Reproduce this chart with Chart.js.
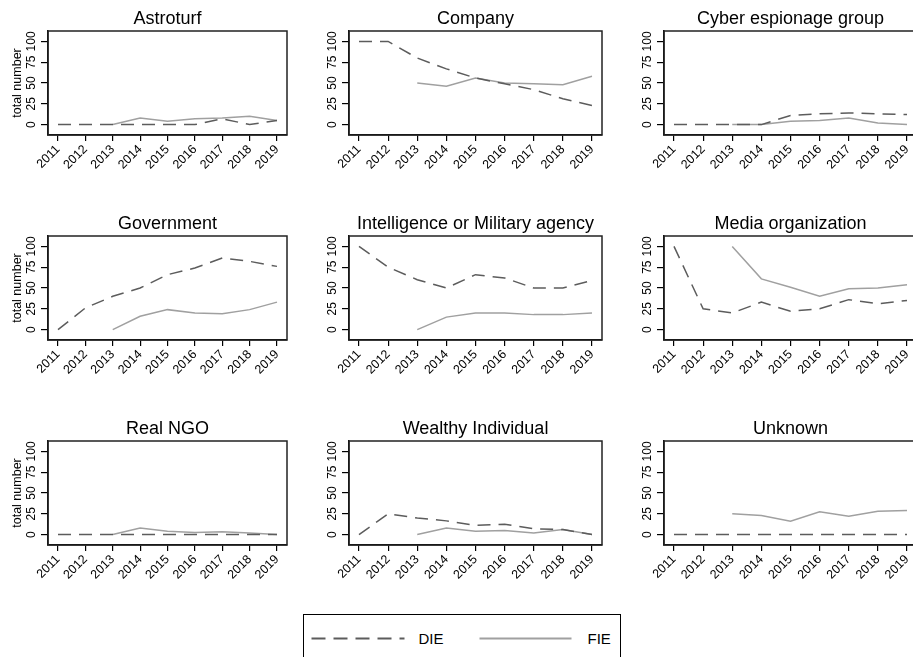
<!DOCTYPE html>
<html><head><meta charset="utf-8">
<script src="https://cdn.jsdelivr.net/npm/chart.js@4"></script>
<style>
html,body{margin:0;padding:0;background:#fff;width:913px;height:657px;overflow:hidden;position:relative;}
canvas{position:absolute;}
#legend{position:absolute;left:303px;top:614px;width:318px;height:60px;border:1.5px solid #000;box-sizing:border-box;font-family:"Liberation Sans",Arial,sans-serif;font-size:15px;color:#000;}
#legend span{position:absolute;line-height:18px;}
</style></head><body>
<div id="legend">
<svg width="316" height="58" style="position:absolute;left:0;top:0">
<line x1="7.5" y1="23.5" x2="100.5" y2="23.5" stroke="#5c5c5c" stroke-width="2" stroke-dasharray="14 8"/>
<line x1="175.5" y1="23.5" x2="267.5" y2="23.5" stroke="#a0a0a0" stroke-width="2"/>
</svg>
<span style="left:114.5px;top:14.5px">DIE</span>
<span style="left:283.5px;top:14.5px">FIE</span>
</div>
<script>
const years = [2011, 2012, 2013, 2014, 2015, 2016, 2017, 2018, 2019];
const yTicks = [0, 25, 50, 75, 100];
const titles = ["Astroturf", "Company", "Cyber espionage group", "Government", "Intelligence or Military agency", "Media organization", "Real NGO", "Wealthy Individual", "Unknown"];

const dieAstroturf = [0, 0, 0, 0, 0, 0, 7, 0, 5];
const fieAstroturf = [null, null, 0, 8, 4, 7, 8, 10, 5];
const dieCompany = [100, 100, 80, 67, 56, 49, 42, 31, 23];
const fieCompany = [null, null, 50, 46, 56, 50, 49, 48, 58];
const dieCyber = [0, 0, 0, 0, 11, 13, 14, 13, 12];
const fieCyber = [null, null, 0, 0, 4, 5, 8, 2, 0];
const dieGovernment = [0, 26, 40, 50, 66, 74, 86, 82, 76];
const fieGovernment = [null, null, 0, 16, 24, 20, 19, 24, 33];
const dieIntelligence = [100, 75, 60, 50, 66, 62, 50, 50, 59];
const fieIntelligence = [null, null, 0, 15, 20, 20, 18, 18, 20];
const dieMedia = [100, 25, 20, 33, 22, 25, 36, 31, 35];
const fieMedia = [null, null, 100, 61, 51, 40, 49, 50, 54];
const dieNGO = [0, 0, 0, 0, 0, 0, 0, 0, 0];
const fieNGO = [null, null, 0, 8, 4, 2.5, 3.5, 2, 0];
const dieWealthy = [0, 25, 20, 16.5, 11, 12.5, 7, 6, 0];
const fieWealthy = [null, null, 0, 8, 4, 5, 2, 6, 0];
const dieUnknown = [0, 0, 0, 0, 0, 0, 0, 0, 0];
const fieUnknown = [null, null, 25, 23, 16, 27.5, 22, 28, 29];

const dieSeries = [dieAstroturf, dieCompany, dieCyber, dieGovernment, dieIntelligence, dieMedia, dieNGO, dieWealthy, dieUnknown];
const fieSeries = [fieAstroturf, fieCompany, fieCyber, fieGovernment, fieIntelligence, fieMedia, fieNGO, fieWealthy, fieUnknown];

const FONT = '"Liberation Sans", Arial, Helvetica, sans-serif';
const colPlotLeft = [48, 349, 664];
const colPlotW = [239, 253, 253];
const colAxisW = [48, 40, 40];
const rowPlotTop = [31, 236, 441];
const plotH = 104, titleBlock = 23, xAxisH = 50, rightPad = 8;

const framePlugin = {
  id: 'frameAndYTicks',
  afterDraw(chart) {
    const ctx = chart.ctx, a = chart.chartArea, s = chart.scales.y;
    ctx.save();
    ctx.strokeStyle = '#222';
    ctx.lineWidth = 1.5;
    ctx.strokeRect(a.left, a.top, a.right - a.left, a.bottom - a.top);
    ctx.fillStyle = '#000';
    ctx.font = '12px ' + FONT;
    ctx.textAlign = 'center';
    ctx.textBaseline = 'middle';
    yTicks.forEach(v => {
      const y = s.getPixelForValue(v);
      ctx.save();
      ctx.translate(a.left - 16, y);
      ctx.rotate(-Math.PI / 2);
      ctx.fillText(String(v), 0, 0);
      ctx.restore();
    });
    ctx.restore();
  }
};

for (let i = 0; i < 9; i++) {
  const col = i % 3, row = Math.floor(i / 3);
  const w = colAxisW[col] + colPlotW[col] + rightPad;
  const h = titleBlock + plotH + xAxisH;
  const cv = document.createElement('canvas');
  cv.width = w; cv.height = h;
  cv.style.left = (colPlotLeft[col] - colAxisW[col]) + 'px';
  cv.style.top = (rowPlotTop[row] - titleBlock) + 'px';
  cv.style.width = w + 'px'; cv.style.height = h + 'px';
  document.body.appendChild(cv);
  const pad = 10 / ((colPlotW[col] - 20) / 8);
  const yw = colAxisW[col];
  new Chart(cv, {
    type: 'line',
    data: {
      labels: years,
      datasets: [
        { label: 'DIE', data: dieSeries[i].map((v, k) => ({x: years[k], y: v})), borderColor: '#5c5c5c', borderWidth: 1.5, borderDash: [13, 8], pointRadius: 0, fill: false, tension: 0, spanGaps: false },
        { label: 'FIE', data: fieSeries[i].map((v, k) => ({x: years[k], y: v})), borderColor: '#a0a0a0', borderWidth: 1.5, pointRadius: 0, fill: false, tension: 0, spanGaps: false }
      ]
    },
    options: {
      responsive: false, animation: false, devicePixelRatio: 1,
      layout: { padding: { left: 0, right: rightPad, top: 0, bottom: 0 } },
      plugins: {
        legend: { display: false }, tooltip: { enabled: false },
        title: { display: true, text: titles[i], fullSize: false, color: '#000', font: { family: FONT, size: 18, weight: 'normal', lineHeight: 1.2 }, padding: { top: 0, bottom: 1.4 } }
      },
      scales: {
        x: {
          type: 'linear', min: 2011 - pad, max: 2019 + pad,
          afterBuildTicks: s => { s.ticks = years.map(v => ({ value: v })); },
          afterFit: s => { s.height = xAxisH; },
          grid: { display: true, drawOnChartArea: false, drawTicks: true, tickLength: 6, color: '#000', lineWidth: 1.2 },
          border: { display: true, color: '#000', width: 1.5 },
          ticks: { autoSkip: false, minRotation: 45, maxRotation: 45, padding: 1, color: '#000', font: { family: FONT, size: 12.5 }, callback: v => String(v) }
        },
        y: {
          min: -12.5, max: 112.5,
          afterBuildTicks: s => { s.ticks = yTicks.map(v => ({ value: v })); },
          afterFit: s => { s.width = yw; },
          grid: { display: true, drawOnChartArea: false, drawTicks: true, tickLength: 7, color: '#000', lineWidth: 1.2 },
          border: { display: true, color: '#000', width: 1.5 },
          ticks: { display: false },
          title: { display: col === 0, text: 'total number', color: '#000', font: { family: FONT, size: 12.5 }, padding: { top: 10, bottom: 0 } }
        }
      }
    },
    plugins: [framePlugin]
  });
}
</script>
</body></html>
